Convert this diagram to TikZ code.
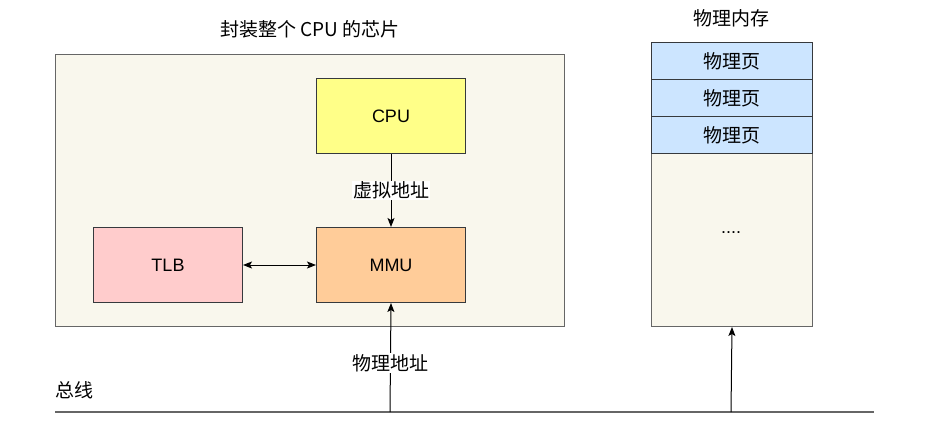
\documentclass[tikz,border=0pt]{standalone}
\usepackage{fontspec}
\setmainfont{Liberation Sans}
\newfontfamily\cjk{Noto Sans CJK SC}
\usetikzlibrary{arrows.meta}
\definecolor{chipfill}{HTML}{F9F7ED}
\definecolor{boxline}{HTML}{36393D}
\definecolor{cpufill}{HTML}{FFFF88}
\definecolor{mmufill}{HTML}{FFCC99}
\definecolor{tlbfill}{HTML}{FFCCCC}
\definecolor{pagefill}{HTML}{CCE5FF}
\definecolor{busline}{HTML}{666666}
\tikzset{
  box/.style={draw=boxline, line width=1pt, inner sep=0pt},
  lbl/.style={font=\fontsize{18}{20}\selectfont, text=black},
  cjklbl/.style={font=\fontsize{19}{21}\selectfont\cjk, text=black},
  conn/.style={line width=1pt, -{Stealth[length=9pt,width=7pt,inset=2pt]}},
}
\begin{document}
\begin{tikzpicture}[x=1pt,y=-1pt]
\useasboundingbox (0,0) rectangle (927,426);
% chip
\node[box, draw=busline, fill=chipfill, minimum width=509pt, minimum height=272pt, anchor=north west] (chip) at (55,54) {};
\node[cjklbl] (chiptitle) at (310,29) {封装整个 CPU 的芯片};
\node[box, fill=cpufill, minimum width=149pt, minimum height=75pt, anchor=north west, lbl] (cpu) at (316,78) {CPU};
\node[box, fill=mmufill, minimum width=149pt, minimum height=75pt, anchor=north west, lbl] (mmu) at (316,227) {MMU};
\node[box, fill=tlbfill, minimum width=149pt, minimum height=75pt, anchor=north west, lbl] (tlb) at (93,227) {TLB};
% memory
\node[cjklbl] (memtitle) at (731,18) {物理内存};
\node[box, draw=busline, fill=chipfill, minimum width=161pt, minimum height=173pt, anchor=north west] (rest) at (651,153) {};
\node[lbl] (dots) at (731,233) {....};
\node[box, fill=pagefill, minimum width=161pt, minimum height=37pt, anchor=north west, cjklbl] (p1) at (651,42) {物理页};
\node[box, fill=pagefill, minimum width=161pt, minimum height=37pt, anchor=north west, cjklbl] (p2) at (651,79) {物理页};
\node[box, fill=pagefill, minimum width=161pt, minimum height=37pt, anchor=north west, cjklbl] (p3) at (651,116) {物理页};
% bus
\coordinate (busL) at (55,412);
\coordinate (busR) at (874,412);
\draw[busline, line width=2pt] (busL) -- (busR);
\node[cjklbl, anchor=west] (bus) at (52,390) {总线};
\coordinate (b1) at (390,412);
\coordinate (b2) at (731,412);
% connectors
\draw[conn] (cpu) -- node[cjklbl, fill=white, inner sep=1pt] (va) {虚拟地址} (mmu);
\draw[line width=1pt, {Stealth[length=9pt,width=7pt,inset=2pt]}-{Stealth[length=9pt,width=7pt,inset=2pt]}] (tlb) -- (mmu);
\draw[conn] (b1) -- (mmu.south);
\node[cjklbl, fill=white, inner sep=1pt] (pa) at (390,363) {物理地址};
\draw[conn] (b2) -- (rest.south);
\end{tikzpicture}
\end{document}
